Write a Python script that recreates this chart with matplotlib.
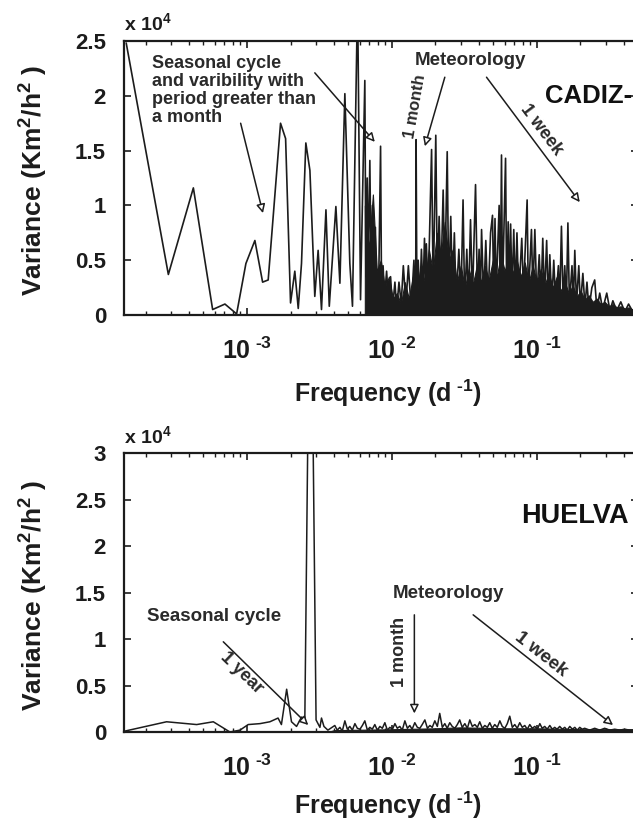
import matplotlib
matplotlib.use("Agg")
import matplotlib.pyplot as plt

plt.rcParams['font.family'] = ['Liberation Sans', 'DejaVu Sans']
plt.rcParams['font.weight'] = 'bold'
plt.rcParams['axes.labelweight'] = 'bold'
plt.rcParams['mathtext.fontset'] = 'custom'
plt.rcParams['mathtext.rm'] = 'Liberation Sans:bold'
plt.rcParams['mathtext.bf'] = 'Liberation Sans:bold'
plt.rcParams['mathtext.default'] = 'bf'

INK = '#1c1c1c'
TXT = '#2a2a2a'

# ---- CADIZ spectrum (variance in units of 1e4 Km^2/h^2, frequency in 1/day)
cadiz_freq = [
    1.47e-4, 2.87e-4, 4.27e-4, 5.80e-4, 7.05e-4, 8.49e-4, 9.84e-4, 1.135e-3, 1.283e-3, 1.402e-3,
    1.706e-3, 1.849e-3, 2.00e-3, 2.14e-3, 2.26e-3, 2.38e-3, 2.55e-3, 2.72e-3, 2.94e-3, 3.10e-3,
    3.27e-3, 3.51e-3, 3.70e-3, 4.11e-3, 4.38e-3, 4.74e-3, 5.13e-3, 5.35e-3, 5.80e-3, 6.08e-3,
    6.51e-3, 6.62e-3, 6.76e-3, 6.88e-3, 7.05e-3, 7.20e-3, 7.35e-3, 7.50e-3, 7.70e-3, 7.85e-3,
    8.10e-3, 8.36e-3, 8.50e-3, 8.70e-3, 8.90e-3, 9.20e-3, 9.50e-3, 9.80e-3, 1.01e-2, 1.05e-2,
    1.08e-2, 1.12e-2, 1.16e-2, 1.20e-2, 1.25e-2, 1.30e-2, 1.36e-2, 1.42e-2, 1.46e-2, 1.47e-2,
    1.49e-2, 1.52e-2, 1.56e-2, 1.60e-2, 1.64e-2, 1.68e-2, 1.71e-2, 1.73e-2, 1.78e-2, 1.88e-2,
    1.93e-2, 2.01e-2, 2.06e-2, 2.12e-2, 2.18e-2, 2.26e-2, 2.32e-2, 2.41e-2, 2.47e-2, 2.55e-2,
    2.62e-2, 2.70e-2, 2.78e-2, 2.90e-2, 3.00e-2, 3.10e-2, 3.18e-2, 3.29e-2, 3.38e-2, 3.49e-2,
    3.60e-2, 3.78e-2, 3.90e-2, 4.00e-2, 4.08e-2, 4.16e-2, 4.30e-2, 4.45e-2, 4.60e-2, 4.80e-2,
    4.95e-2, 5.05e-2, 5.15e-2, 5.25e-2, 5.50e-2, 5.60e-2, 5.71e-2, 5.80e-2, 6.09e-2, 6.20e-2,
    6.35e-2, 6.45e-2, 6.60e-2, 6.75e-2, 6.94e-2, 7.10e-2, 7.30e-2, 7.50e-2, 7.88e-2, 8.10e-2,
    8.58e-2, 8.75e-2, 9.19e-2, 9.40e-2, 9.70e-2, 1.00e-1, 1.04e-1, 1.07e-1, 1.10e-1, 1.13e-1,
    1.17e-1, 1.20e-1, 1.23e-1, 1.27e-1, 1.31e-1, 1.35e-1, 1.41e-1, 1.44e-1, 1.48e-1, 1.52e-1,
    1.56e-1, 1.60e-1, 1.64e-1, 1.68e-1, 1.75e-1, 1.79e-1, 1.83e-1, 1.88e-1, 1.95e-1, 2.00e-1,
    2.08e-1, 2.15e-1, 2.22e-1, 2.29e-1, 2.40e-1, 2.51e-1, 2.60e-1, 2.72e-1, 2.85e-1, 3.04e-1,
    3.20e-1, 3.35e-1, 3.56e-1, 3.80e-1, 4.05e-1, 4.30e-1, 4.60e-1, 4.98e-1,
]
cadiz_var = [
    2.48, 0.37, 1.16, 0.05, 0.10, 0.01, 0.47, 0.68, 0.30, 0.32,
    1.75, 1.61, 0.11, 0.40, 0.06, 0.47, 1.57, 1.32, 0.17, 0.59,
    0.05, 0.96, 0.08, 0.99, 0.29, 2.02, 0.47, 0.08, 2.90, 0.14,
    2.14, 0.35, 1.25, 0.45, 1.41, 0.30, 1.00, 0.15, 0.80, 0.12,
    0.20, 1.54, 0.10, 0.45, 0.15, 0.40, 0.10, 0.35, 0.05, 0.30,
    0.05, 0.30, 0.10, 0.45, 0.10, 0.45, 0.05, 0.50, 0.00, 1.60,
    0.10, 0.50, 0.15, 0.60, 0.20, 0.70, 0.20, 0.65, 0.20, 1.51,
    0.20, 1.64, 0.30, 0.90, 0.30, 1.14, 0.30, 1.49, 0.20, 0.90,
    0.20, 0.75, 0.10, 0.60, 0.15, 1.05, 0.10, 0.60, 0.10, 0.87,
    0.15, 1.19, 0.15, 0.60, 0.10, 0.78, 0.15, 0.68, 0.10, 0.75,
    0.91, 0.15, 0.88, 0.20, 1.00, 0.15, 1.46, 0.20, 1.43, 0.20,
    0.85, 0.20, 0.83, 0.20, 0.78, 0.20, 0.75, 0.15, 0.70, 0.20,
    1.05, 0.15, 0.78, 0.20, 0.78, 0.15, 0.55, 0.15, 0.70, 0.15,
    0.68, 0.10, 0.55, 0.10, 0.50, 0.10, 0.45, 0.10, 0.81, 0.10,
    0.45, 0.10, 0.84, 0.10, 0.45, 0.10, 0.59, 0.10, 0.45, 0.08,
    0.38, 0.08, 0.30, 0.05, 0.25, 0.32, 0.05, 0.20, 0.05, 0.20,
    0.04, 0.13, 0.04, 0.12, 0.03, 0.10, 0.03, 0.08,
]
# solid black mass of unresolved peaks (jagged top)
cadiz_band_freq = [
    6.51e-3, 6.94e-3, 7.40e-3, 7.88e-3, 8.39e-3, 8.95e-3, 9.54e-3, 1.016e-2, 1.083e-2, 1.154e-2,
    1.229e-2, 1.310e-2, 1.396e-2, 1.487e-2, 1.585e-2, 1.689e-2, 1.800e-2, 1.918e-2, 2.044e-2, 2.178e-2,
    2.320e-2, 2.472e-2, 2.634e-2, 2.807e-2, 2.991e-2, 3.187e-2, 3.396e-2, 3.619e-2, 3.856e-2, 4.109e-2,
    4.378e-2, 4.666e-2, 4.971e-2, 5.297e-2, 5.645e-2, 6.015e-2, 6.409e-2, 6.830e-2, 7.278e-2, 7.755e-2,
    8.263e-2, 8.805e-2, 9.384e-2, 0.1000, 0.1066, 0.1136, 0.1210, 0.1289, 0.1374, 0.1464,
    0.1560, 0.1662, 0.1771, 0.1887, 0.2011, 0.2143, 0.2284, 0.2433, 0.2593, 0.2763,
    0.2944, 0.3137, 0.3343, 0.3562, 0.3796, 0.4045, 0.4310, 0.4593, 0.4894,
]
cadiz_band_top = [
    1.00, 0.60, 1.10, 0.40, 0.50, 0.25, 0.35, 0.15, 0.20, 0.10,
    0.30, 0.15, 0.35, 0.20, 0.45, 0.30, 0.60, 0.40, 0.75, 0.55,
    0.85, 0.50, 0.60, 0.30, 0.45, 0.25, 0.42, 0.28, 0.45, 0.30,
    0.45, 0.32, 0.50, 0.35, 0.55, 0.40, 0.55, 0.38, 0.50, 0.35,
    0.48, 0.30, 0.45, 0.30, 0.42, 0.28, 0.38, 0.25, 0.35, 0.22,
    0.30, 0.20, 0.27, 0.17, 0.22, 0.14, 0.18, 0.12, 0.15, 0.10,
    0.12, 0.08, 0.10, 0.07, 0.08, 0.06, 0.07, 0.05, 0.06,
]

# ---- HUELVA spectrum
huelva_freq = [
    1.44e-4, 2.79e-4, 3.84e-4, 4.50e-4, 5.86e-4, 7.63e-4, 8.95e-4, 1.02e-3, 1.23e-3, 1.44e-3,
    1.64e-3, 1.73e-3, 1.88e-3, 2.03e-3, 2.20e-3, 2.38e-3, 2.51e-3, 2.64e-3, 2.85e-3, 3.00e-3,
    3.19e-3, 3.27e-3, 3.40e-3, 3.62e-3,
    4.04e-3, 4.20e-3, 4.38e-3, 4.55e-3, 4.74e-3, 4.93e-3, 5.13e-3, 5.34e-3, 5.56e-3, 5.78e-3,
    6.02e-3, 6.26e-3, 6.51e-3, 6.78e-3, 7.05e-3, 7.33e-3, 7.63e-3, 7.94e-3, 8.27e-3, 8.60e-3,
    8.95e-3, 9.31e-3, 9.69e-3, 1.01e-2, 1.05e-2, 1.09e-2, 1.135e-2, 1.18e-2, 1.23e-2, 1.28e-2,
    1.33e-2, 1.38e-2, 1.44e-2, 1.50e-2, 1.56e-2, 1.62e-2, 1.69e-2, 1.76e-2, 1.83e-2, 1.90e-2,
    1.98e-2, 2.06e-2, 2.14e-2, 2.23e-2, 2.32e-2, 2.41e-2, 2.51e-2, 2.61e-2, 2.72e-2, 2.83e-2,
    2.94e-2, 3.06e-2, 3.19e-2, 3.32e-2, 3.45e-2, 3.59e-2, 3.74e-2, 3.89e-2, 4.04e-2, 4.21e-2,
    4.38e-2, 4.56e-2, 4.74e-2, 4.93e-2, 5.13e-2, 5.34e-2, 5.56e-2, 5.78e-2, 6.02e-2, 6.26e-2,
    6.51e-2, 6.78e-2, 7.05e-2, 7.33e-2, 7.63e-2, 7.94e-2, 8.27e-2, 8.60e-2, 8.95e-2, 9.31e-2,
    9.69e-2, 0.101, 0.105, 0.109, 0.1135, 0.118, 0.123, 0.128, 0.133, 0.138,
    0.144, 0.150, 0.156, 0.162, 0.169, 0.176, 0.183, 0.190, 0.198, 0.206,
    0.214, 0.232, 0.251, 0.272, 0.294, 0.319, 0.345, 0.374, 0.404, 0.438,
    0.474, 0.50,
]
huelva_var = [
    0.01, 0.11, 0.09, 0.08, 0.11, 0.00, 0.02, 0.08, 0.09, 0.11,
    0.15, 0.08, 0.46, 0.11, 0.06, 0.16, 0.15, 3.40, 3.40, 0.13,
    0.05, 0.15, 0.06, 0.02,
    0.07, 0.02, 0.05, 0.01, 0.12, 0.03, 0.06, 0.02, 0.09, 0.04,
    0.03, 0.07, 0.12, 0.02, 0.05, 0.03, 0.08, 0.02, 0.06, 0.04,
    0.10, 0.02, 0.05, 0.03, 0.09, 0.04, 0.06, 0.02, 0.12, 0.04,
    0.07, 0.03, 0.10, 0.05, 0.04, 0.08, 0.13, 0.04, 0.07, 0.05,
    0.12, 0.06, 0.20, 0.05, 0.09, 0.04, 0.10, 0.06, 0.04, 0.08,
    0.13, 0.05, 0.09, 0.04, 0.13, 0.06, 0.08, 0.05, 0.11, 0.04,
    0.07, 0.05, 0.10, 0.04, 0.08, 0.05, 0.12, 0.06, 0.04, 0.09,
    0.17, 0.05, 0.08, 0.04, 0.10, 0.05, 0.07, 0.03, 0.08, 0.04,
    0.06, 0.03, 0.09, 0.04, 0.06, 0.03, 0.07, 0.03, 0.05, 0.03,
    0.06, 0.03, 0.05, 0.02, 0.06, 0.03, 0.05, 0.02, 0.05, 0.03,
    0.04, 0.02, 0.04, 0.02, 0.04, 0.02, 0.03, 0.02, 0.03, 0.02,
    0.02, 0.02,
]
huelva_band_freq = [3.6e-3, 4.0e-3, 1.0e-2, 2.0e-2, 3.0e-2, 6.0e-2, 1.0e-1, 2.0e-1, 5.0e-1]
huelva_band_top = [0.0, 0.02, 0.03, 0.04, 0.05, 0.04, 0.04, 0.03, 0.03]

xticks = [1e-3, 1e-2, 1e-1]
xtick_labels = [r'$10^{\;\text{-3}}$', r'$10^{\;\text{-2}}$', r'$10^{\;\text{-1}}$']

fig = plt.figure(figsize=(6.33, 8.21), dpi=100)
ax1 = fig.add_axes([0.196, 0.6163, 0.812, 0.3337])
ax2 = fig.add_axes([0.196, 0.1084, 0.812, 0.3398])


def style(ax, ymax, yticks, ylabels, xlab_y):
    ax.set_xscale('log')
    ax.set_xlim(1.42e-4, 0.5)
    ax.set_ylim(0, ymax)
    ax.set_xticks(xticks)
    ax.set_xticklabels(xtick_labels, fontsize=18)
    ax.set_yticks(yticks)
    ax.set_yticklabels(ylabels, fontsize=16)
    ax.tick_params(which='both', direction='in', top=True, right=True, colors=INK)
    ax.tick_params(which='major', length=5, width=1.2)
    ax.tick_params(which='minor', length=3, width=1.0)
    ax.tick_params(axis='x', pad=16)
    ax.tick_params(axis='y', pad=13)
    for s in ax.spines.values():
        s.set_linewidth(1.6)
        s.set_color(INK)
    ax.text(0.514, xlab_y, r'Frequency (d$^{\;\text{-1}}$)', transform=ax.transAxes,
            ha='center', va='center', fontsize=18, color=INK)
    ax.set_ylabel(r'Variance (Km$^{2}$/h$^{2}$ )', fontsize=19, fontweight='bold', color=INK)
    ax.yaxis.set_label_coords(-0.144, 0.49)


arrow = dict(arrowstyle='-|>', fc='white', ec=INK, lw=1.1, mutation_scale=13,
             shrinkA=0, shrinkB=0)

# top panel
ax1.fill_between(cadiz_band_freq, 0, cadiz_band_top, color=INK, lw=0.8)
ax1.plot(cadiz_freq, cadiz_var, color=INK, lw=1.2)
style(ax1, 2.5, [0, 0.5, 1, 1.5, 2, 2.5], ['0', '0.5', '1', '1.5', '2', '2.5'], -0.285)
ax1.text(0.0, 1.025, r'x 10$^{4}$', transform=ax1.transAxes, ha='left', va='bottom',
         fontsize=14, color=INK)
ax1.text(2.21e-4, 2.37, 'Seasonal cycle\nand varibility with\nperiod greater than\na month',
         ha='left', va='top', fontsize=13, color=TXT, linespacing=1.07)
ax1.annotate('', xy=(1.29e-3, 0.93), xytext=(9.05e-4, 1.75), arrowprops=arrow)
ax1.annotate('', xy=(7.63e-3, 1.58), xytext=(2.94e-3, 2.21), arrowprops=arrow)
ax1.text(3.51e-2, 2.32, 'Meteorology', ha='center', va='center', fontsize=13.5, color=TXT)
ax1.annotate('', xy=(1.69e-2, 1.54), xytext=(2.32e-2, 2.17), arrowprops=arrow)
ax1.text(1.44e-2, 1.90, '1 month', ha='center', va='center', rotation=80,
         fontsize=12, color=TXT)
ax1.annotate('', xy=(0.198, 1.03), xytext=(4.5e-2, 2.17), arrowprops=arrow)
ax1.text(0.108, 1.69, '1 week', ha='center', va='center', rotation=-53,
         fontsize=13, color=TXT)
ax1.text(0.1135, 2.0, 'CADIZ-', ha='left', va='center', fontsize=18.5, color='#111111')

# bottom panel
ax2.fill_between(huelva_band_freq, 0, huelva_band_top, color=INK, lw=0.8)
ax2.plot(huelva_freq, huelva_var, color=INK, lw=1.1)
style(ax2, 3, [0, 0.5, 1, 1.5, 2, 2.5, 3], ['0', '0.5', '1', '1.5', '2', '2.5', '3'], -0.262)
ax2.text(0.0, 1.02, r'x 10$^{4}$', transform=ax2.transAxes, ha='left', va='bottom',
         fontsize=14, color=INK)
ax2.text(2.04e-4, 1.24, 'Seasonal cycle', ha='left', va='center', fontsize=13.5, color=TXT)
ax2.annotate('', xy=(2.65e-3, 0.075), xytext=(6.87e-4, 0.97), arrowprops=arrow)
ax2.text(9.19e-4, 0.63, '1 year', ha='center', va='center', rotation=-44,
         fontsize=13, color=TXT)
ax2.text(2.47e-2, 1.49, 'Meteorology', ha='center', va='center', fontsize=13.5, color=TXT)
ax2.annotate('', xy=(1.43e-2, 0.20), xytext=(1.43e-2, 1.26), arrowprops=arrow)
ax2.text(1.135e-2, 0.86, '1 month', ha='center', va='center', rotation=90,
         fontsize=13, color=TXT)
ax2.annotate('', xy=(0.336, 0.075), xytext=(3.64e-2, 1.26), arrowprops=arrow)
ax2.text(0.107, 0.84, '1 week', ha='center', va='center', rotation=-38,
         fontsize=13.5, color=TXT)
ax2.text(7.85e-2, 2.32, 'HUELVA', ha='left', va='center', fontsize=19.5, color='#111111')

fig.savefig('out.png', dpi=100)
